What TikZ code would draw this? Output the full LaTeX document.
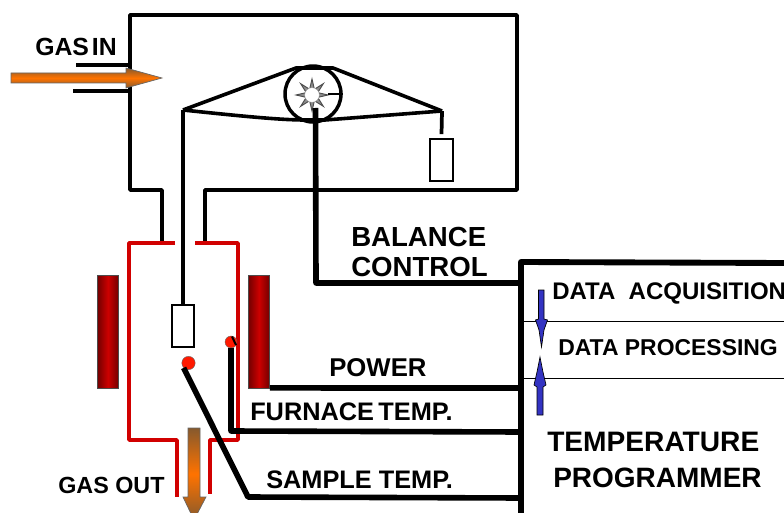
\documentclass[tikz,border=0pt]{standalone}
\usepackage{fontspec}
\setmainfont{Liberation Sans}
\begin{document}
\begin{tikzpicture}[x=0.75pt,y=-0.75pt,
  wire/.style={draw=black,line width=2.8pt,line join=round},
  thin wire/.style={draw=black,line width=2.7pt,line join=round},
  tube/.style={draw=red!82!black,line width=2.7pt,line join=round},
  heavy/.style={draw=black,line width=4.2pt,line join=round},
  hang/.style={draw=black,line width=1.7pt,fill=white,minimum width=17pt,inner sep=0pt},
  heater/.style={draw=black!70,line width=.4pt,left color=red!45!black,right color=red!45!black,middle color=red!80!black,minimum width=16pt,minimum height=85pt,inner sep=0pt},
  probe/.style={circle,fill=red!80!orange,draw=black!60,line width=.3pt,inner sep=0pt},
  lab/.style={font=\bfseries,anchor=west,inner sep=0pt,text=black},
  gasfill/.style={draw=black!60,line width=.5pt,top color=brown!70!black,bottom color=brown!70!black,middle color=orange!90!red},
  blue arrow/.style={draw=black,line width=.5pt,fill=blue!70!black!80}]
\useasboundingbox (0,0) rectangle (784,513);
\clip (0,0) rectangle (784,513);
% named points
\coordinate (boxTL) at (130,15);
\coordinate (boxTR) at (517,15);
\coordinate (boxBR) at (517,190);
\coordinate (boxBL) at (130,190);
\coordinate (portL) at (162,243);
\coordinate (portR) at (205,243);
\coordinate (gasUp) at (76,65);
\coordinate (gasUpE) at (130,65);
\coordinate (gasLo) at (73,91);
\coordinate (gasLoE) at (130,91);
% balance housing
\draw[thin wire] (portL) -- (portL |- boxBL) -- (boxBL) -- (boxTL) -- (boxTR) -- (boxBR) -- (portR |- boxBR) -- (portR);
\draw[thin wire] (gasUp) -- (gasUpE);
\draw[thin wire] (gasLo) -- (gasLoE);
% reaction tube
\coordinate (tubeA) at (175,243);
\coordinate (tubeB) at (195,243);
\draw[tube] (tubeA) -- (129,243) -- (129,440) -- (177,440) -- (177,497);
\draw[tube] (tubeB) -- (238,243) -- (238,440) -- (210,440) -- (210,494);
% heaters
\node[heater] (heatL) at (108,332) {};
\node[heater] (heatR) at (259,332) {};
% balance
\node[circle,draw=black,line width=2.6pt,minimum size=42pt,inner sep=0pt,fill=white] (pulley) at (313,94) {};
\coordinate (pivotL) at (183,110);
\coordinate (pivotR) at (442,111);
\node[hang,minimum height=32pt] (sample) at (183,326) {};
\node[hang,minimum height=31pt] (weight) at (441.5,160) {};
\draw[thin wire] (pivotL) -- (296,68) -- (333,68) -- (pivotR);
\draw[thin wire] (pivotL) .. controls (240,116) and (280,120) .. (305,120) -- (325,120) -- (pivotR);
\draw[thin wire] (pivotL) -- (sample.north);
\draw[wire] (pivotR) -- ([yshift=3pt]weight.north);
% star
\foreach \a in {0,45,...,315}{
  \path[draw=black!70,line width=.7pt,fill=white!55!black] ([shift={(\a-18:7)}]312,95) -- ([shift={(\a:16)}]312,95) -- ([shift={(\a+18:7)}]312,95) -- cycle;
}
\node[circle,fill=white,draw=black!40,line width=.3pt,minimum size=11pt,inner sep=0pt] (hub) at (312,95) {};
\draw[thin wire,line width=2pt] (328,94) -- (pulley.east);
% programmer box
\coordinate (progTL) at (521,262);
\coordinate (progTR) at (784,263);
\coordinate (progBL) at (521,513);
\draw[heavy,line width=4.4pt] (progBL) -- (progTL) -- (progTR);
\coordinate (sepA) at (521,321);
\coordinate (sepB) at (521,378);
\draw[black,line width=.6pt] (sepA) -- (784,321);
\draw[black,line width=.6pt] (sepB) -- (784,378);
% blue arrows
\draw[blue arrow] (538.5,290) -- (544,290) -- (544,319) -- (547.5,320) -- (544,330) -- (541.5,347) -- (539,330) -- (535.5,320) -- (538.5,319) -- cycle;
\draw[blue arrow] (537,415) -- (543,415) -- (543,387) -- (546,385) -- (543,372) -- (540,357) -- (537,372) -- (534,385) -- (537,387) -- cycle;
% signal lines
\node[probe,minimum size=9pt] (furnProbe) at (231,342) {};
\node[probe,minimum size=10pt] (sampProbe) at (188.5,363) {};
\draw[black,line width=1.5pt] (232,336.5) -- (236,345);
\coordinate (ctrlBend) at (316,283);
\draw[heavy] (315.5,108) -- (ctrlBend) -- (sepA |- ctrlBend);
\draw[heavy] (heatR.south east) ++(0,-1) -- (sepB |- 0,388);
\draw[heavy] (231,348) -- (231,431) -- (sepB |- 0,432);
\draw[heavy] (sampProbe.south west) -- (248,497) -- (sepB |- 0,498);
% gas arrows
\path[gasfill] (11,73) -- (126,73) -- (126,68) -- (162,78) -- (126,88) -- (126,83) -- (11,83) -- cycle;
\path[gasfill] (188,428) -- (200,428) -- (200,497) -- (206,497) -- (194,520) -- (183,497) -- (188,497) -- cycle;
% labels
\node[lab,font=\bfseries\fontsize{18.6}{20}\selectfont] (tGasIn) at (35,47) {GAS\hspace{.12em}IN};
\node[lab,font=\bfseries\fontsize{20.7}{22}\selectfont] (tBal) at (351,236.5) {BALANCE};
\node[lab,font=\bfseries\fontsize{20.7}{22}\selectfont] (tCtl) at (351,266.5) {CONTROL};
\node[lab,font=\bfseries\fontsize{19.3}{21}\selectfont] (tPow) at (329,367.5) {POWER};
\node[lab,font=\bfseries\fontsize{19}{21}\selectfont] (tFur) at (250,412) {FURNACE\hspace{.17em}TEMP.};
\node[lab,font=\bfseries\fontsize{19}{21}\selectfont] (tSam) at (266,479.5) {SAMPLE TEMP.};
\node[lab,font=\bfseries\fontsize{17.5}{19}\selectfont] (tOut) at (58,485.5) {GAS OUT};
\node[lab,font=\bfseries\fontsize{18}{19}\selectfont] (tAcq) at (552,293) {DATA\ \ ACQUISITION};
\node[lab,font=\bfseries\fontsize{17.2}{19}\selectfont] (tPro) at (558,348) {DATA PROCESSING};
\node[lab,font=\bfseries\fontsize{21.1}{23}\selectfont] (tTem) at (547,442) {TEMPERATURE};
\node[lab,font=\bfseries\fontsize{21}{23}\selectfont] (tPrg) at (553,478) {PROGRAMMER};
\end{tikzpicture}
\end{document}
